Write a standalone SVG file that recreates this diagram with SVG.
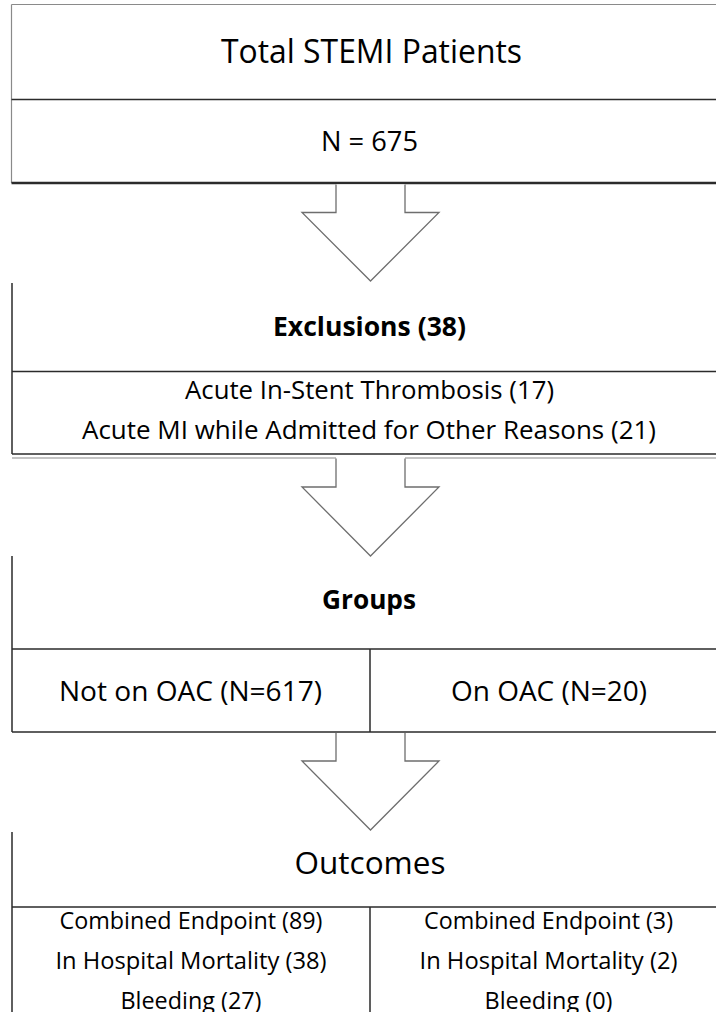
<svg xmlns="http://www.w3.org/2000/svg" width="716" height="1012" viewBox="0 0 716 1012">
<style>
.ln{stroke:#2b2b2b;stroke-width:1.5;fill:none}
.lt{stroke:#8a8a8a;stroke-width:1.2;fill:none}
.arr{stroke:#6e6e6e;stroke-width:1.3;fill:#fff;stroke-linejoin:miter}
text{font-family:"Open Sans","Liberation Sans",sans-serif;fill:#000;text-anchor:middle}
.b{font-weight:bold}
</style>
<rect width="716" height="1012" fill="#fff"/>
<g id="total">
<path class="lt" d="M11.5 4.5H728M11.5 4.5V183"/>
<path class="ln" d="M11.5 99.5H728"/>
<path class="ln" d="M11.5 183H728" style="stroke-width:2.5"/>
<text x="371.5" y="63" font-size="32" textLength="301" lengthAdjust="spacingAndGlyphs">Total STEMI Patients</text>
<text x="369.5" y="151" font-size="27" textLength="97" lengthAdjust="spacingAndGlyphs">N = 675</text>
</g>
<g id="exclusions">
<path class="ln" d="M12 283V454M12 371.5H728M12 454H728"/>
<path class="lt" d="M12 458H336M405 458H728"/>
<text class="b" x="369.5" y="336" font-size="27" textLength="193" lengthAdjust="spacingAndGlyphs">Exclusions (38)</text>
<text x="369.5" y="399" font-size="25" textLength="369" lengthAdjust="spacingAndGlyphs">Acute In-Stent Thrombosis (17)</text>
<text x="369" y="439" font-size="25" textLength="574" lengthAdjust="spacingAndGlyphs">Acute MI while Admitted for Other Reasons (21)</text>
</g>
<g id="groups">
<path class="ln" d="M12 556V732M12 649H728M370 649V732M12 732H728"/>
<text class="b" x="369" y="609" font-size="27" textLength="94" lengthAdjust="spacingAndGlyphs">Groups</text>
<text x="190.5" y="701" font-size="28" textLength="263" lengthAdjust="spacingAndGlyphs">Not on OAC (N=617)</text>
<text x="549" y="701" font-size="28" textLength="196" lengthAdjust="spacingAndGlyphs">On OAC (N=20)</text>
</g>
<g id="outcomes">
<path class="ln" d="M12 832V1012M12 907H728M370 907V1012"/>
<text x="370" y="874" font-size="31" textLength="151" lengthAdjust="spacingAndGlyphs">Outcomes</text>
<text x="191" y="929" font-size="24" textLength="263" lengthAdjust="spacingAndGlyphs">Combined Endpoint (89)</text>
<text x="191" y="969" font-size="24" textLength="271" lengthAdjust="spacingAndGlyphs">In Hospital Mortality (38)</text>
<text x="191" y="1009" font-size="24" textLength="141" lengthAdjust="spacingAndGlyphs">Bleeding (27)</text>
<text x="548.5" y="929" font-size="24" textLength="249" lengthAdjust="spacingAndGlyphs">Combined Endpoint (3)</text>
<text x="548.5" y="969" font-size="24" textLength="258" lengthAdjust="spacingAndGlyphs">In Hospital Mortality (2)</text>
<text x="548.5" y="1009" font-size="24" textLength="128" lengthAdjust="spacingAndGlyphs">Bleeding (0)</text>
</g>
<g id="connectors">
<path class="arr" d="M336 184.5V212.5H302L370.5 281L439 212.5H405V184.5"/>
<path class="arr" d="M336 458.5V487H302L370.5 556L439 487H405V458.5"/>
<path class="arr" d="M336 733V761H302L370.5 830L439 761H405V733"/>
</g>
</svg>
